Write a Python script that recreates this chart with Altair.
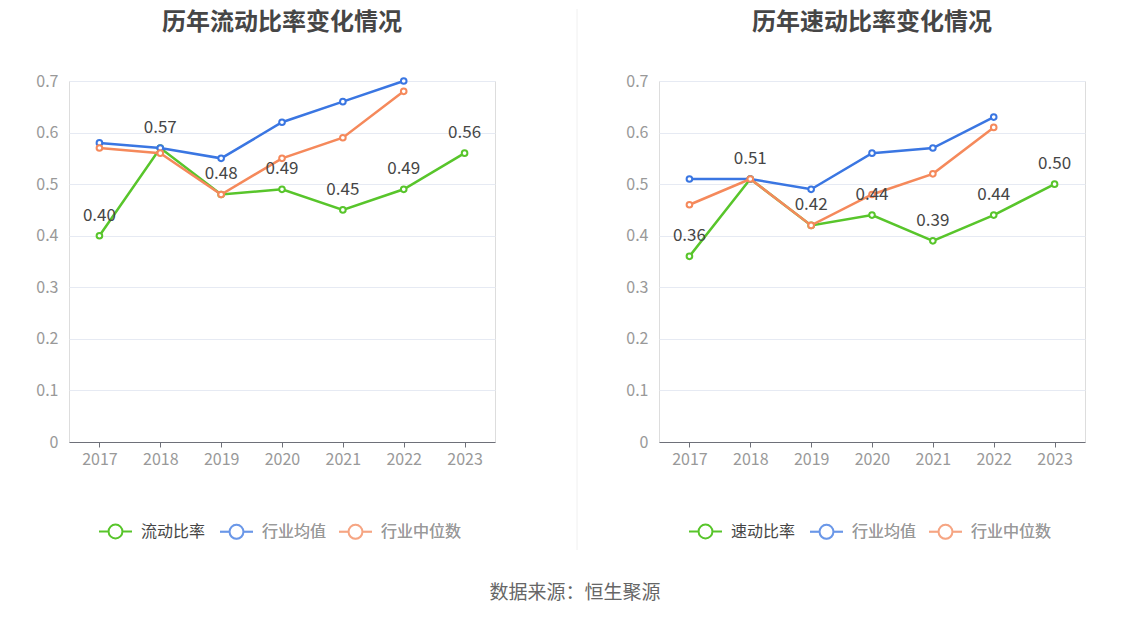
import altair as alt
import pandas as pd

years = ["2017", "2018", "2019", "2020", "2021", "2022", "2023"]

left_title = "历年流动比率变化情况"
left_main_name = "流动比率"
left_main = [0.40, 0.57, 0.48, 0.49, 0.45, 0.49, 0.56]
left_avg = [0.58, 0.57, 0.55, 0.62, 0.66, 0.70, None]
left_med = [0.57, 0.56, 0.48, 0.55, 0.59, 0.68, None]

right_title = "历年速动比率变化情况"
right_main_name = "速动比率"
right_main = [0.36, 0.51, 0.42, 0.44, 0.39, 0.44, 0.50]
right_avg = [0.51, 0.51, 0.49, 0.56, 0.57, 0.63, None]
right_med = [0.46, 0.51, 0.42, 0.48, 0.52, 0.61, None]

avg_name = "行业均值"
med_name = "行业中位数"
source_text = "数据来源：恒生聚源"
y_ticks = [0, 0.1, 0.2, 0.3, 0.4, 0.5, 0.6, 0.7]

GREEN = "#58c52b"
BLUE = "#3a76e2"
ORANGE = "#f5895b"
FONT = "Noto Sans CJK SC"
W, H = 426, 361

SYMBOL = ("M-1,0L-0.42,0M0.42,0L1,0M-0.42,0A0.42,0.42,0,1,1,0.42,0"
          "A0.42,0.42,0,1,1,-0.42,0Z")


def frame(name, vals):
    rows = [{"year": y, "series": name, "value": v} for y, v in zip(years, vals) if v is not None]
    return pd.DataFrame(rows)


def panel(title, main_name, main_vals, avg_vals, med_vals, extras=False):
    x = alt.X("year:O", title=None, sort=years,
              scale=alt.Scale(type="point", padding=0.5),
              axis=alt.Axis(labelAngle=0, domainColor="#6e7079", tickColor="#6e7079",
                            tickSize=5, labelColor="#999999", labelFontSize=16,
                            labelPadding=4, grid=False))
    y = alt.Y("value:Q", title=None, scale=alt.Scale(domain=[0, 0.7], nice=False),
              axis=alt.Axis(values=y_ticks, domain=False, ticks=False,
                            labelColor="#999999", labelFontSize=16, labelPadding=11,
                            gridColor="#e6eaf3", gridWidth=1,
                            labelExpr="datum.value == 0 ? '0' : format(datum.value, '.1f')"))

    main_legend = alt.Legend(orient="none", legendX=29, legendY=433, direction="horizontal",
                             title=None, symbolType=SYMBOL, symbolSize=1089,
                             symbolStrokeWidth=2, symbolFillColor="white",
                             labelFontSize=16, labelColor="#464646", labelOffset=8,
                             padding=0)
    ind_legend = alt.Legend(orient="none", legendX=150, legendY=433, direction="horizontal",
                            title=None, symbolType=SYMBOL, symbolSize=1089,
                            symbolStrokeWidth=2, symbolFillColor="white", symbolOpacity=0.5,
                            labelFontSize=16, labelColor="#9a9a9a", labelOffset=8,
                            columnPadding=8, padding=0)

    main_scale = alt.Scale(domain=[main_name], range=[GREEN])
    ind_scale = alt.Scale(domain=[avg_name, med_name], range=[BLUE, ORANGE])
    main_color = alt.Color("series:N", scale=main_scale, legend=main_legend)
    main_color_nl = alt.Color("series:N", scale=main_scale, legend=None)
    ind_stroke = alt.Stroke("series:N", scale=ind_scale, legend=ind_legend)
    ind_stroke_nl = alt.Stroke("series:N", scale=ind_scale, legend=None)

    d_main = frame(main_name, main_vals)
    d_avg = frame(avg_name, avg_vals)
    d_med = frame(med_name, med_vals)

    main_line = alt.Chart(d_main).mark_line(strokeWidth=2.5).encode(x=x, y=y, color=main_color)
    main_pts = alt.Chart(d_main).mark_point(size=32, strokeWidth=2, fill="white",
                                            opacity=1).encode(x=x, y=y, color=main_color_nl)
    avg_line = alt.Chart(d_avg).mark_line(strokeWidth=2.5).encode(x=x, y=y, stroke=ind_stroke)
    avg_pts = alt.Chart(d_avg).mark_point(size=32, strokeWidth=2, fill="white",
                                          opacity=1).encode(x=x, y=y, stroke=ind_stroke_nl)
    med_line = alt.Chart(d_med).mark_line(strokeWidth=2.5).encode(x=x, y=y, stroke=ind_stroke)
    med_pts = alt.Chart(d_med).mark_point(size=32, strokeWidth=2, fill="white",
                                          opacity=1).encode(x=x, y=y, stroke=ind_stroke_nl)
    labels = alt.Chart(d_main).mark_text(dy=-20, fontSize=17, color="#464646",
                                         baseline="middle").encode(
        x=x, y=y, text=alt.Text("value:Q", format=".2f"))
    title_mark = alt.Chart(pd.DataFrame({"t": [title]})).mark_text(
        fontSize=24, fontWeight="bold", color="#464646", baseline="middle",
        align="center").encode(x=alt.value(W / 2), y=alt.value(-58), text="t:N")

    layers = [main_line, main_pts, avg_line, avg_pts, med_line, med_pts, labels, title_mark]
    if extras:
        sep = alt.Chart(pd.DataFrame({"a": [0]})).mark_rule(color="#f0f0f0", strokeWidth=1).encode(
            x=alt.value(508), y=alt.value(-72), y2=alt.value(469))
        src = alt.Chart(pd.DataFrame({"t": [source_text]})).mark_text(
            fontSize=19, color="#666666", baseline="middle", align="center").encode(
            x=alt.value(506), y=alt.value(512), text="t:N")
        layers = [sep] + layers + [src]

    return alt.layer(*layers).resolve_scale(color="independent", stroke="independent").properties(
        width=W, height=H)


left = panel(left_title, left_main_name, left_main, left_avg, left_med, extras=True)
right = panel(right_title, right_main_name, right_main, right_avg, right_med)

chart = alt.hconcat(left, right, spacing=164, bounds="flush").resolve_scale(
    color="independent", stroke="independent").properties(
    padding={"left": 27, "top": 0, "right": 0, "bottom": 0}
).configure_view(stroke=None).configure(font=FONT)

chart.save("out.html", embed_options={"renderer": "svg", "actions": False})
